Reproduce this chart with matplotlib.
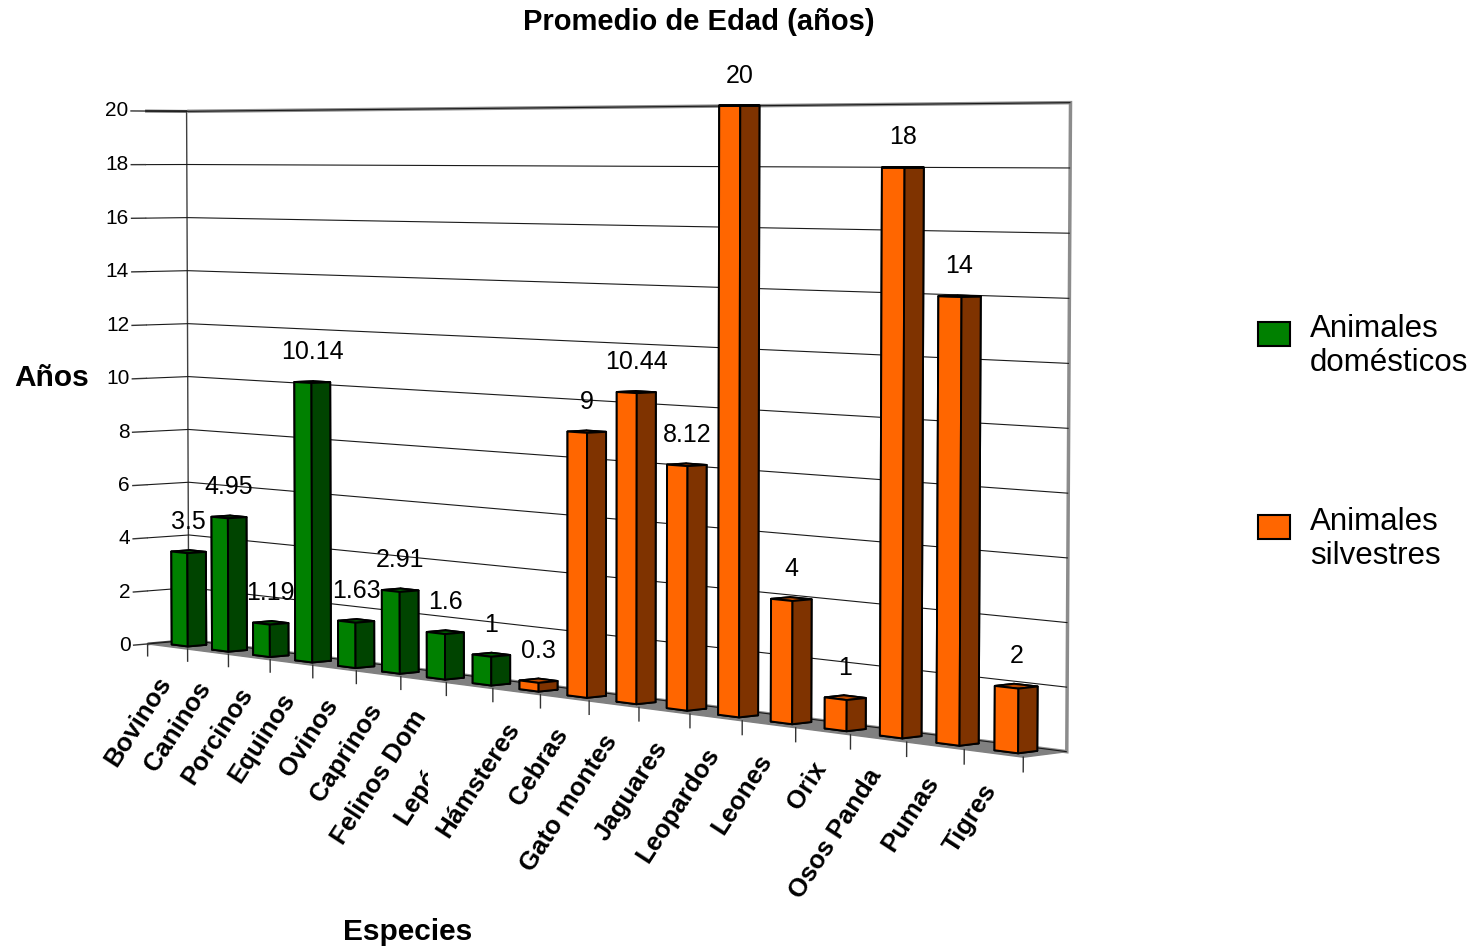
import numpy as np
import matplotlib
matplotlib.use("Agg")
import matplotlib.pyplot as plt
from matplotlib import transforms
from matplotlib.patches import Rectangle
from mpl_toolkits.mplot3d import proj3d

W, H = 1481, 952

species = ["Bovinos", "Caninos", "Porcinos", "Equinos", "Ovinos", "Caprinos",
           "Felinos Dom", "Lepóridos", "Hámsteres", "Cebras", "Gato montes",
           "Jaguares", "Leopardos", "Leones", "Orix", "Osos Panda", "Pumas", "Tigres"]
domestic = [3.5, 4.95, 1.19, 10.14, 1.63, 2.91, 1.6, 1]
wild = [0.3, 9, 10.44, 8.12, 20, 4, 1, 18, 14, 2]
yticks = list(range(0, 21, 2))

# front, side, top face colours
GREEN = ("#008000", "#004400", "#006000")
ORANGE = ("#ff6600", "#7f3300", "#c04c00")

plt.rcParams["font.family"] = ["Liberation Sans", "DejaVu Sans"]
plt.rcParams["grid.color"] = "#1a1a1a"
plt.rcParams["grid.linewidth"] = 0.8

fig = plt.figure(figsize=(W / 100, H / 100), dpi=100)
# square 3D axes (pixels), view fitted to the reference perspective
L, B, S = -150.3, -161.2, 1387.2
ax = fig.add_axes([L / W, B / H, S / W, S / H], projection="3d")
ax.view_init(elev=3.0567, azim=-41.9426)
ax.set_proj_type("persp", focal_length=0.6282)
ax.set_box_aspect((1, 0.04455, 0.45016))

n = len(species)
values = domestic + wild
bar_w, bar_y0, bar_d = 0.4, 0.29, 0.44
faces = []
for i in range(n):
    front, side, top = GREEN if i < len(domestic) else ORANGE
    # bar3d face order: bottom, top, front, back, left, right
    faces += [side, top, front, side, side, side]
bars = ax.bar3d(np.arange(n) + 0.5 - bar_w / 2, np.full(n, bar_y0), np.zeros(n),
                bar_w, bar_d, values, color=faces, edgecolor="black", linewidth=1.4, shade=False)
bars.set_clip_on(False)

# category ticks hanging below the floor, value ticks on the left
for b in range(n + 1):
    ax.plot([b, b], [0, 0], [0, -0.45], color="#333333", lw=1, clip_on=False)
for v in yticks:
    ax.plot([0, 0], [0, -0.33], [v, v], color="#333333", lw=1, clip_on=False)

ax.set_xlim(0, n)
ax.set_ylim(0, 1)
ax.set_zlim(0, 20)
ax.set_xticks([])
ax.set_yticks([])
ax.set_zticks(yticks)
ax.set_zticklabels([])
ax.zaxis.set_tick_params(color=(0, 0, 0, 0))
for a in (ax.xaxis, ax.yaxis, ax.zaxis):
    a.line.set_color((0, 0, 0, 0))
ax.xaxis.set_pane_color((1, 1, 1, 1))
ax.xaxis.pane.set_edgecolor("#404040")
ax.xaxis.pane.set_linewidth(2)
ax.yaxis.set_pane_color((1, 1, 1, 1))
ax.yaxis.pane.set_edgecolor("#8c8c8c")
ax.yaxis.pane.set_linewidth(2.5)
ax.zaxis.set_pane_color("#808080")
ax.zaxis.pane.set_edgecolor("#808080")
ax.set_facecolor((1, 1, 1, 0))

M = ax.get_proj()


def to_view(x, y, z):
    xs, ys, _ = proj3d.proj_transform(np.array([x]), np.array([y]), np.array([z]), M)
    return xs[0], ys[0]


lab_tr = transforms.offset_copy(ax.transData, fig=fig, x=-12, y=-26, units="dots")
val_tr = transforms.offset_copy(ax.transData, fig=fig, x=0, y=30, units="dots")
ytk_tr = transforms.offset_copy(ax.transData, fig=fig, x=-3, y=0, units="dots")

for i, name in enumerate(species):
    px, py = to_view(i + 0.5, 0, 0)
    t = ax.text2D(px, py, name, transform=lab_tr, rotation=57, rotation_mode="anchor",
                  ha="right", va="top", fontsize=18.5, fontweight="bold")
    if name == "Lepóridos":
        # partly hidden in the original chart
        t.set_clip_box(transforms.TransformedBbox(transforms.Bbox([[0, 0], [428 / W, 1]]), fig.transFigure))
        t.set_clip_on(True)
    px, py = to_view(i + 0.5, bar_y0 + bar_d / 2, values[i])
    ax.text2D(px, py, f"{values[i]:g}", transform=val_tr, ha="center", va="center", fontsize=18)

for v in yticks:
    px, py = to_view(0, -0.33, v)
    ax.text2D(px, py, str(v), transform=ytk_tr, ha="right", va="center", fontsize=15)

fig.text(699 / W, 1 - 22 / H, "Promedio de Edad (años)", ha="center", va="center",
         fontsize=21, fontweight="bold")
fig.text(52 / W, 1 - 378 / H, "Años", ha="center", va="center", fontsize=21.5, fontweight="bold")
fig.text(408 / W, 1 - 932 / H, "Especies", ha="center", va="center", fontsize=21.5, fontweight="bold")

legend_items = [("Animales\ndomésticos", GREEN[0], 334), ("Animales\nsilvestres", ORANGE[0], 527)]
for label, col, yc in legend_items:
    fig.add_artist(Rectangle((1258 / W, 1 - (yc + 12) / H), 32 / W, 24 / H,
                             transform=fig.transFigure, facecolor=col, edgecolor="black", lw=1.5))
    fig.text(1310 / W, 1 - (yc + 12) / H, label, ha="left", va="center", fontsize=22.5, linespacing=1.2)

fig.savefig("out.png", dpi=100)
